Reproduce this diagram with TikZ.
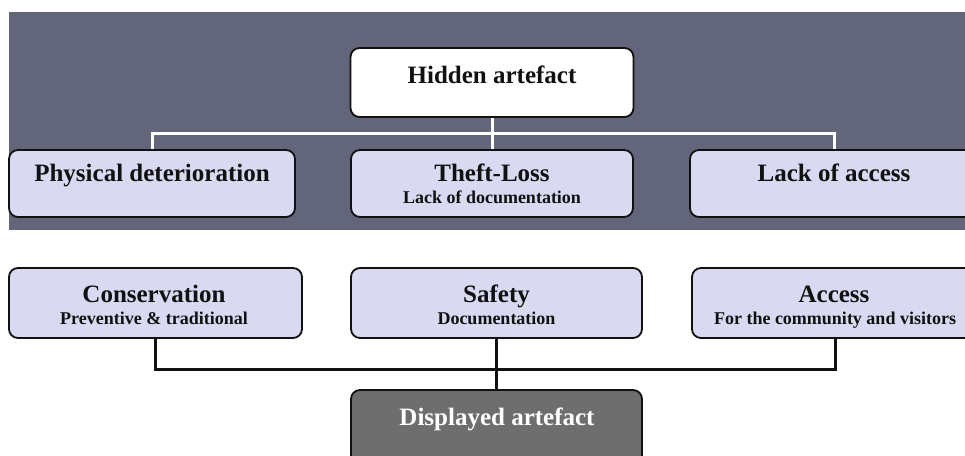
\documentclass[tikz,border=0pt]{standalone}
\usepackage{fontspec}
\setmainfont{Liberation Serif}
\usetikzlibrary{backgrounds}
\definecolor{band}{HTML}{63657A}
\definecolor{lav}{HTML}{D9D9F2}
\definecolor{dispfill}{HTML}{6E6E6E}
\definecolor{ink}{HTML}{111111}
\begin{document}
\begin{tikzpicture}[x=1pt,y=-1pt,
  box/.style={draw=ink, line width=1.8pt, rounded corners=9pt, fill=lav, inner sep=0pt},
  ttl/.style={anchor=base, font=\bfseries\fontsize{25}{30}\selectfont, text=ink, inner sep=0pt},
  sub/.style={anchor=base, font=\bfseries\fontsize{18}{22}\selectfont, text=ink, inner sep=0pt},
  wline/.style={draw=white, line width=3pt},
  bline/.style={draw=ink, line width=3pt}]
\useasboundingbox (0,0) rectangle (965,455);
\clip (0,0) rectangle (965,455);
% boxes
\node[box, fill=white, minimum width=283pt, minimum height=69pt] (hid) at (492,82.5) {};
\node[box, minimum width=286pt, minimum height=67pt] (phys) at (152,183.5) {};
\node[box, minimum width=282pt, minimum height=67pt] (theft) at (492,183.5) {};
\node[box, minimum width=288pt, minimum height=67pt] (lack) at (834,183.5) {};
\node[box, minimum width=293pt, minimum height=70pt] (cons) at (155.5,303) {};
\node[box, minimum width=291pt, minimum height=70pt] (safety) at (496.5,303) {};
\node[box, minimum width=286pt, minimum height=70pt] (access) at (835,303) {};
\node[box, fill=dispfill, minimum width=291pt, minimum height=80pt] (disp) at (496.5,430) {};
\coordinate (jA) at (492,133);
\coordinate (jB) at (496.5,369);
% background band and connectors behind boxes
\begin{scope}[on background layer]
\fill[white] (0,0) rectangle (965,455);
\fill[band] (9,12) rectangle (975,230);
\draw[wline] (hid.south) -- (theft.north);
\draw[wline] (phys.north) |- (jA) -| (lack.north);
\draw[bline] (cons.south) |- (jB) -| (access.south);
\draw[bline] (safety.south) -- (disp.north);
\end{scope}
% texts
\node[ttl] (t1) at (492,83) {Hidden artefact};
\node[ttl] (t2) at (152,181) {Physical deterioration};
\node[ttl] (t3) at (492,181) {Theft-Loss};
\node[sub] (t3s) at (492,203) {Lack of documentation};
\node[ttl] (t4) at (834,181) {Lack of access};
\node[ttl] (t5) at (154,302) {Conservation};
\node[sub] (t5s) at (154,324) {Preventive \& traditional};
\node[ttl] (t6) at (496.5,302) {Safety};
\node[sub] (t6s) at (496.5,324) {Documentation};
\node[ttl] (t7) at (834,302) {Access};
\node[sub] (t7s) at (835,324) {For the community and visitors};
\node[ttl, text=white] (t8) at (497,425) {Displayed artefact};
\end{tikzpicture}
\end{document}
